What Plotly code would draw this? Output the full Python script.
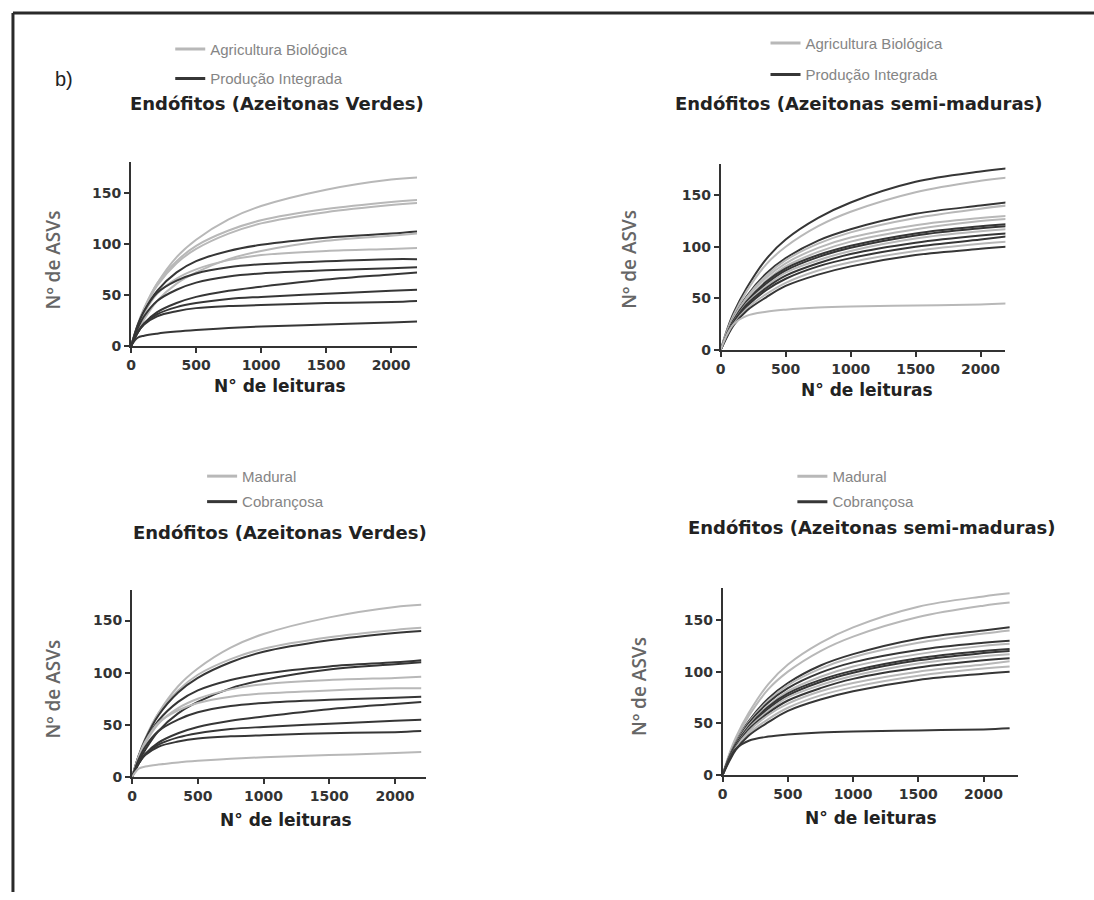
import plotly.graph_objects as go

W, H = 1094, 900

# ---------------- data ----------------
reads = [0, 50, 100, 200, 350, 500, 750, 1000, 1500, 2000, 2200]

# Endófitos - Azeitonas Verdes (same curves in both left panels)
verdes_curves = [
    [0, 20, 36, 61, 87, 104, 124, 137, 153, 163, 165],   # A
    [0, 21, 37, 61, 83, 98, 113, 123, 134, 141, 143],    # B
    [0, 20, 36, 59, 81, 95, 110, 120, 131, 138, 140],    # C
    [0, 20, 34, 54, 72, 83, 93, 99, 106, 110, 112],      # D
    [0, 15, 26, 44, 61, 72, 85, 93, 103, 108, 110],      # E
    [0, 18, 32, 51, 66, 75, 84, 89, 93, 95, 96],         # F
    [0, 20, 34, 52, 64, 71, 77, 80, 83, 85, 85],         # G
    [0, 17, 29, 44, 55, 62, 68, 71, 74, 76, 77],         # H
    [0, 13, 22, 33, 42, 48, 54, 58, 65, 70, 72],         # I
    [0, 13, 22, 31, 38, 42, 46, 48, 51, 54, 55],         # J
    [0, 13, 21, 29, 34, 37, 39, 40, 42, 43, 44],         # K
    [0, 8, 10, 12, 14, 15.5, 17.5, 19, 21, 23, 24],      # L
]
verdes_manejo = ["AB", "AB", "AB", "PI", "AB", "AB", "PI", "PI", "PI", "PI", "PI", "PI"]
verdes_cultivar = ["M", "M", "C", "C", "C", "M", "M", "C", "C", "C", "C", "M"]

# Endófitos - Azeitonas semi-maduras (same curves in both right panels)
semi_curves = [
    [0, 20, 36, 60, 88, 107, 128, 143, 163, 173, 176],
    [0, 19, 34, 57, 83, 100, 120, 134, 153, 164, 167],
    [0, 17, 31, 52, 74, 89, 106, 117, 132, 140, 143],
    [0, 17, 31, 51, 72, 87, 103, 114, 128, 137, 140],
    [0, 17, 30, 50, 70, 84, 99, 109, 121, 128, 130],
    [0, 16, 29, 48, 67, 81, 95, 105, 117, 125, 127],
    [0, 16, 29, 47, 66, 79, 92, 101, 113, 120, 122],
    [0, 15, 28, 46, 64, 77, 90, 99, 111, 118, 120],
    [0, 15, 27, 45, 62, 75, 87, 96, 108, 115, 117],
    [0, 15, 27, 44, 60, 72, 84, 93, 104, 111, 113],
    [0, 14, 26, 42, 58, 69, 81, 89, 100, 107, 110],
    [0, 14, 25, 40, 54, 65, 77, 85, 96, 103, 105],
    [0, 13, 24, 38, 51, 62, 73, 81, 92, 98, 100],
    [0, 15, 25, 33, 37, 39, 41, 42, 43, 44, 45],
]
semi_manejo = ["PI", "AB", "PI", "AB", "AB", "AB", "PI", "PI", "AB", "PI", "PI", "AB", "PI", "AB"]
semi_cultivar = ["M", "M", "C", "M", "C", "M", "C", "C", "M", "C", "M", "M", "C", "C"]

manejo_labels = {"AB": "Agricultura Biológica", "PI": "Produção Integrada"}
cultivar_labels = {"M": "Madural", "C": "Cobrançosa"}
x_ticks = [0, 500, 1000, 1500, 2000]
y_ticks = [0, 50, 100, 150]
title_verdes = "Endófitos (Azeitonas Verdes)"
title_semi = "Endófitos (Azeitonas semi-maduras)"
x_title = "N° de leituras"
y_title = "Nº de ASVs"

# ---------------- style ----------------
LIGHT = "#b8b8b8"
DARK = "#363636"
group_color = {"AB": LIGHT, "PI": DARK, "M": LIGHT, "C": DARK}


def px(x):
    return x / W


def py(y):
    return 1 - y / H


fig = go.Figure()

panels = [
    ("", verdes_curves, verdes_manejo, manejo_labels, "legend", ["AB", "PI"]),
    ("2", semi_curves, semi_manejo, manejo_labels, "legend2", ["AB", "PI"]),
    ("3", verdes_curves, verdes_cultivar, cultivar_labels, "legend3", ["M", "C"]),
    ("4", semi_curves, semi_cultivar, cultivar_labels, "legend4", ["M", "C"]),
]

for suf, curves, groups, labels, leg, order in panels:
    xa, ya = "x" + suf, "y" + suf
    for g in order:
        fig.add_trace(go.Scatter(
            x=[None], y=[None], mode="lines", name=labels[g],
            line=dict(color=group_color[g], width=3),
            legend=leg, legendgroup=leg + g, showlegend=True,
            xaxis=xa, yaxis=ya, hoverinfo="skip"))
    for c, g in zip(curves, groups):
        fig.add_trace(go.Scatter(
            x=reads, y=c, mode="lines",
            line=dict(color=group_color[g], width=2, shape="spline", smoothing=1.0),
            legend=leg, legendgroup=leg + g, showlegend=False,
            xaxis=xa, yaxis=ya, hoverinfo="skip"))

geo = {
    "": dict(x0=126.7, x1=414, xr=2200, yb=349, yt=163.6, yr=180),
    "2": dict(x0=719, x1=1005, xr=2191, yb=353, yt=165.8, yr=180),
    "3": dict(x0=127.7, x1=423, xr=2237, yb=784, yt=595, yr=179.5),
    "4": dict(x0=721, x1=1018, xr=2267, yb=781.7, yt=593, yr=181.4),
}

axis_common = dict(
    showline=True, linecolor="#333333", linewidth=2, showgrid=False, zeroline=False,
    ticks="outside", ticklen=5, tickwidth=2, tickcolor="#333333",
    tickfont=dict(family="DejaVu Sans", size=14, color="#333333", weight="bold"),
    fixedrange=True,
)

lay = {}
for suf, g in geo.items():
    lay["xaxis" + suf] = dict(
        axis_common, domain=[px(g["x0"]), px(g["x1"])], range=[0, g["xr"]],
        tickvals=x_ticks, anchor="y" + suf)
    lay["yaxis" + suf] = dict(
        axis_common, domain=[py(g["yb"]), py(g["yt"])], range=[0, g["yr"]],
        tickvals=y_ticks, anchor="x" + suf)

legend_common = dict(
    bgcolor="rgba(0,0,0,0)", borderwidth=0, xanchor="left", yanchor="top",
    font=dict(family="Liberation Sans", size=15, color="#858585"),
    itemwidth=30, traceorder="grouped", itemclick=False,
)
legend_pos = {
    "legend": (166, 33, 7),
    "legend2": (764, 27, 9),
    "legend3": (198, 464, 3),
    "legend4": (791, 464, 3),
}
for name, (lx, ly, gap) in legend_pos.items():
    lay[name] = dict(legend_common, x=px(lx), y=py(ly), tracegroupgap=gap)

annotations = []


def text(x, y, s, size, color, family, weight="normal", angle=0):
    annotations.append(dict(
        x=px(x), y=py(y), xref="paper", yref="paper", text=s, showarrow=False,
        xanchor="center", yanchor="middle", textangle=angle,
        font=dict(size=size, color=color, family=family, weight=weight)))


text(273, 104, title_verdes, 18, "#222222", "DejaVu Sans", "bold")
text(857, 104, title_semi, 18, "#222222", "DejaVu Sans", "bold")
text(276, 537, title_verdes, 18, "#222222", "DejaVu Sans", "bold")
text(870, 532, title_semi, 18, "#222222", "DejaVu Sans", "bold")
text(276, 389, x_title, 17, "#222222", "DejaVu Sans", "bold")
text(866, 394, x_title, 17, "#222222", "DejaVu Sans", "bold")
text(282, 827, x_title, 17, "#222222", "DejaVu Sans", "bold")
text(870, 825, x_title, 17, "#222222", "DejaVu Sans", "bold")
text(48, 262, y_title, 19, "#666666", "Open Sans", 600, -90)
text(627, 262, y_title, 19, "#666666", "Open Sans", 600, -90)
text(48, 695, y_title, 19, "#666666", "Open Sans", 600, -90)
text(637, 693, y_title, 19, "#666666", "Open Sans", 600, -90)
text(59, 80, "b)", 20, "#222222", "Liberation Sans")

shapes = [
    dict(type="line", xref="paper", yref="paper", x0=px(8), x1=1, y0=py(13), y1=py(13),
         line=dict(color="#2a2a2a", width=3)),
    dict(type="line", xref="paper", yref="paper", x0=px(8), x1=px(8), y0=py(13), y1=0,
         line=dict(color="#2a2a2a", width=3)),
]

fig.update_layout(
    width=W, height=H, margin=dict(l=0, r=0, t=0, b=0),
    paper_bgcolor="white", plot_bgcolor="white",
    annotations=annotations, shapes=shapes, **lay,
)

fig.write_html("out.html")
